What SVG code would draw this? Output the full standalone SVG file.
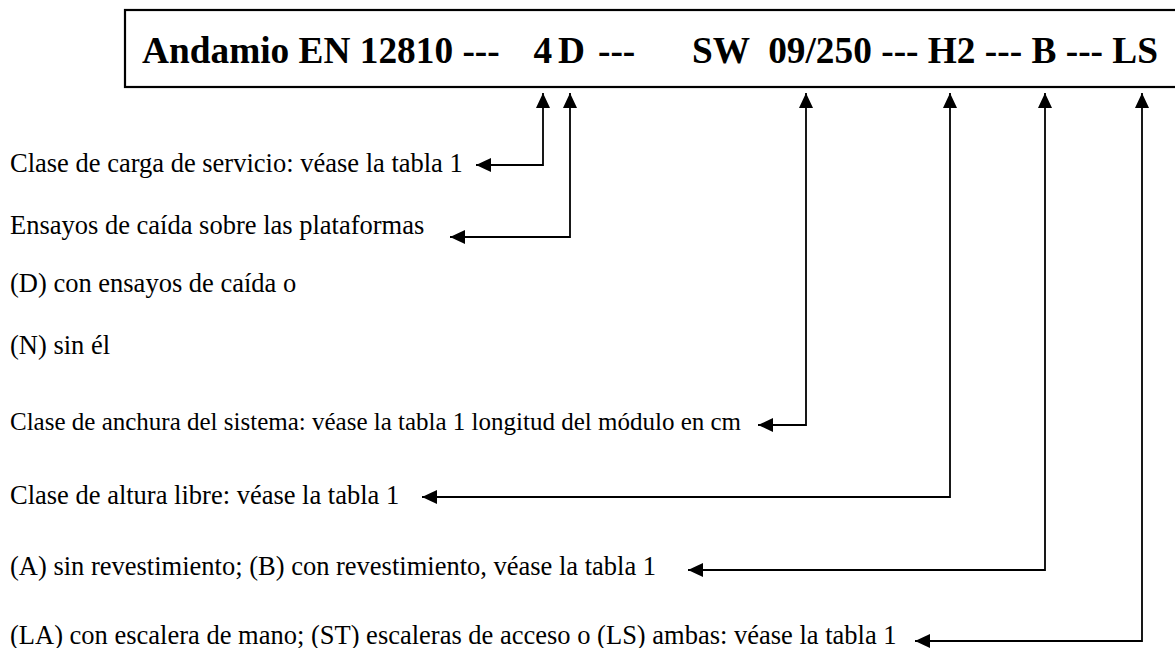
<svg xmlns="http://www.w3.org/2000/svg" width="1175" height="648" viewBox="0 0 1175 648">
<style>
.t{font-family:"Liberation Serif","Times New Roman",serif;font-size:26.5px;fill:#000}
.h{font-family:"Liberation Serif","Times New Roman",serif;font-size:37.33px;font-weight:bold;fill:#000}
.c{fill:none;stroke:#000;stroke-width:1.8}
</style>
<defs>
<marker id="ah" viewBox="0 0 15 14" refX="15" refY="7" markerWidth="15" markerHeight="14" markerUnits="userSpaceOnUse" orient="auto-start-reverse">
<path d="M0,0 L15,7 L0,14 Z" fill="#000"/>
</marker>
</defs>
<rect width="1175" height="648" fill="#fff"/>
<g id="title">
<rect x="125" y="10" width="1070" height="77" fill="none" stroke="#000" stroke-width="2.2"/>
<text class="h" x="142" y="63">Andamio EN 12810 ---</text>
<text class="h" x="533.5" y="63">4</text>
<text class="h" x="558" y="63">D</text>
<text class="h" x="598" y="63">---</text>
<text class="h" x="1158" y="63" text-anchor="end" xml:space="preserve">SW  09/250 --- H2 --- B --- LS</text>
</g>
<g id="connectors">
<path class="c" marker-start="url(#ah)" marker-end="url(#ah)" d="M476,165 H543 V93"/>
<path class="c" marker-start="url(#ah)" marker-end="url(#ah)" d="M450,237 H570 V93"/>
<path class="c" marker-start="url(#ah)" marker-end="url(#ah)" d="M758,425 H806 V93"/>
<path class="c" marker-start="url(#ah)" marker-end="url(#ah)" d="M422,497 H950 V93"/>
<path class="c" marker-start="url(#ah)" marker-end="url(#ah)" d="M688,570 H1045 V93"/>
<path class="c" marker-start="url(#ah)" marker-end="url(#ah)" d="M915,641 H1142 V93"/>
</g>
<g id="labels">
<text class="t" x="10" y="172">Clase de carga de servicio: véase la tabla 1</text>
<text class="t" x="10" y="234">Ensayos de caída sobre las plataformas</text>
<text class="t" x="10" y="292">(D) con ensayos de caída o</text>
<text class="t" x="10" y="354">(N) sin él</text>
<text class="t" x="10" y="430" style="font-size:25px">Clase de anchura del sistema: véase la tabla 1 longitud del módulo en cm</text>
<text class="t" x="10" y="504">Clase de altura libre: véase la tabla 1</text>
<text class="t" x="10" y="575">(A) sin revestimiento; (B) con revestimiento, véase la tabla 1</text>
<text class="t" x="10" y="644">(LA) con escalera de mano; (ST) escaleras de acceso o (LS) ambas: véase la tabla 1</text>
</g>
</svg>
